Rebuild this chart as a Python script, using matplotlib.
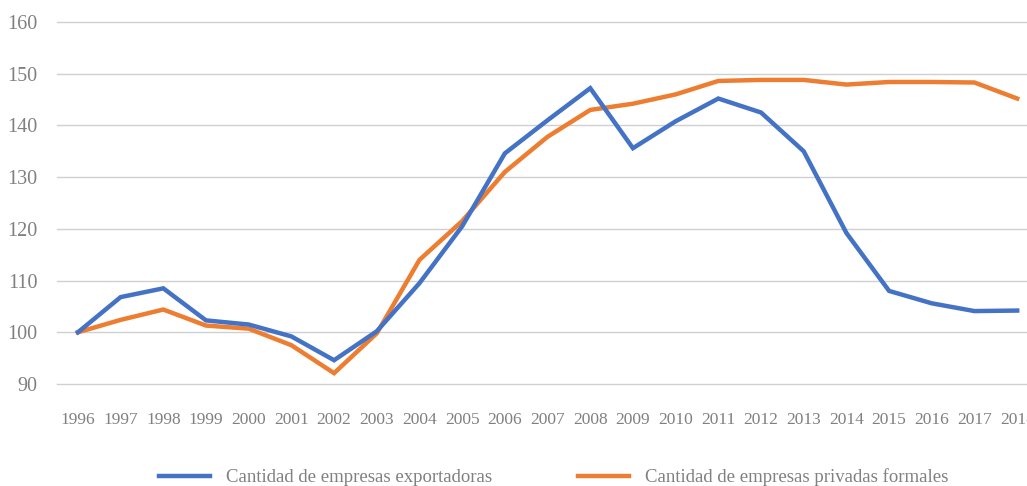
import matplotlib.pyplot as plt

years = [str(y) for y in range(1996, 2019)]
exportadoras = [100, 106.8, 108.5, 102.3, 101.5, 99.2, 94.6, 100.2, 109.5, 120.5,
                134.6, 141.0, 147.2, 135.6, 140.8, 145.2, 142.5, 135.0, 119.2, 108.0,
                105.6, 104.1, 104.2]
privadas = [100, 102.4, 104.4, 101.3, 100.7, 97.5, 92.1, 99.8, 114.0, 121.5,
            131.0, 137.8, 143.0, 144.2, 146.0, 148.6, 148.8, 148.8, 147.9, 148.4,
            148.4, 148.3, 145.2]
yticks = [90, 100, 110, 120, 130, 140, 150, 160]

grey = '#808080'
plt.rcParams['font.family'] = ['Liberation Serif', 'DejaVu Serif']

fig = plt.figure(figsize=(10.27, 4.86), dpi=100)
ax = fig.add_axes([57 / 1027, 1 - 384 / 486, 1 - 57 / 1027, 362 / 486])

x = range(len(years))
ax.plot(x, exportadoras, color='#4472C4', lw=3.2, label='Cantidad de empresas exportadoras',
        solid_joinstyle='miter', zorder=3)
ax.plot(x, privadas, color='#ED7D31', lw=3.2, label='Cantidad de empresas privadas formales',
        solid_joinstyle='miter', zorder=2)

ax.set_xlim(-0.49, 22.23)
ax.set_ylim(90, 160)
ax.set_yticks(yticks)
ax.set_xticks(list(x))
ax.set_xticklabels(years)
for yv in yticks:
    ax.axhline(yv, color='#D0D0D0', lw=1, zorder=1, clip_on=False)
for s in ax.spines.values():
    s.set_visible(False)
ax.tick_params(axis='both', length=0, colors=grey)
ax.tick_params(axis='y', labelsize=14.5, pad=14)
ax.tick_params(axis='x', labelsize=12.5, pad=20)

fig.legend(loc='center', bbox_to_anchor=(0.539, 0.018), ncol=2, frameon=False,
           fontsize=13.5, labelcolor=grey, handlelength=2.7, columnspacing=4.6,
           handletextpad=0.85)

fig.savefig('out.png', dpi=100)
